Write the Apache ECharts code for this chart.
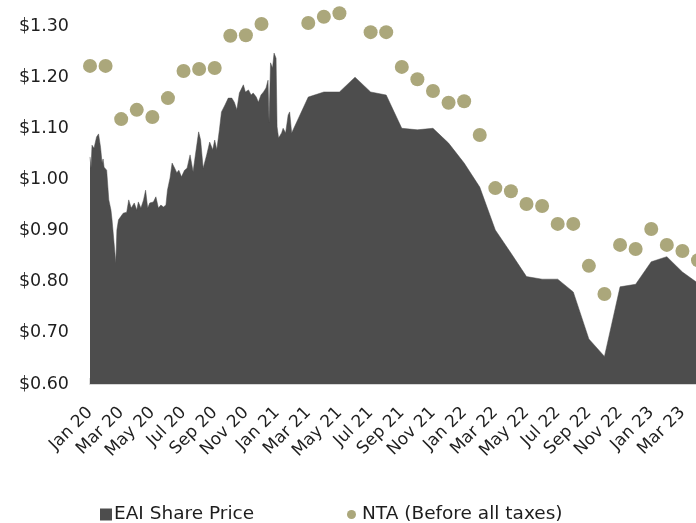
<!DOCTYPE html>
<html>
<head>
<meta charset="utf-8">
<script src="https://cdn.jsdelivr.net/npm/echarts@6/dist/echarts.min.js"></script>
<style>html,body{margin:0;padding:0;background:#fff}#c{width:696px;height:523px}</style>
</head>
<body>
<div id="c"></div>
<script>
// Tick labels (every second month, starting Jan 2020)
const tickLabels = ['Jan 20','Mar 20','May 20','Jul 20','Sep 20','Nov 20','Jan 21','Mar 21','May 21','Jul 21',
  'Sep 21','Nov 21','Jan 22','Mar 22','May 22','Jul 22','Sep 22','Nov 22','Jan 23','Mar 23'];

// EAI share price: dates and closing values
const priceDates = [
  '2020-01-01','2020-01-03','2020-01-05','2020-01-09','2020-01-14','2020-01-18','2020-01-22','2020-01-25','2020-01-27','2020-01-29',
  '2020-02-03','2020-02-07','2020-02-11','2020-02-13','2020-02-16','2020-02-20','2020-02-22','2020-02-25','2020-02-29',
  '2020-03-05','2020-03-12','2020-03-16','2020-03-21','2020-03-27',
  '2020-04-01','2020-04-04','2020-04-09','2020-04-14','2020-04-18','2020-04-22','2020-04-26',
  '2020-05-03','2020-05-08','2020-05-13','2020-05-18','2020-05-23','2020-05-28','2020-05-31',
  '2020-06-05','2020-06-09','2020-06-14','2020-06-18','2020-06-22','2020-06-27',
  '2020-07-03','2020-07-08','2020-07-14','2020-07-20','2020-07-26','2020-07-31',
  '2020-08-04','2020-08-09','2020-08-16','2020-08-22','2020-08-28',
  '2020-09-01','2020-09-05','2020-09-10','2020-09-14','2020-09-21','2020-09-27',
  '2020-10-04','2020-10-09','2020-10-14','2020-10-19','2020-10-27','2020-10-31',
  '2020-11-06','2020-11-11','2020-11-15','2020-11-21','2020-11-25','2020-11-30',
  '2020-12-05','2020-12-10','2020-12-14','2020-12-16','2020-12-19','2020-12-23','2020-12-26','2020-12-30',
  '2021-01-01','2021-01-04','2021-01-10','2021-01-13','2021-01-18','2021-01-23','2021-01-26','2021-01-30',
  '2021-03-01','2021-04-01','2021-05-01','2021-06-01','2021-07-01','2021-08-01','2021-09-01','2021-10-01','2021-11-01','2021-12-01',
  '2022-01-01','2022-02-01','2022-03-01','2022-04-01','2022-05-01','2022-06-01','2022-07-01','2022-08-01','2022-09-01','2022-10-01',
  '2022-11-01','2022-12-01','2023-01-01','2023-02-01','2023-03-01','2023-04-01'
];
const priceValues = [
  1.044,1.022,1.067,1.061,1.083,1.089,1.063,1.032,1.040,1.024,
  1.018,0.960,0.940,0.921,0.921,0.837,0.901,0.921,0.927,
  0.934,0.936,0.960,0.944,0.954,
  0.940,0.956,0.944,0.960,0.979,0.944,0.954,
  0.956,0.966,0.944,0.950,0.946,0.950,0.979,
  1.003,1.032,1.022,1.013,1.018,1.005,
  1.018,1.022,1.048,1.015,1.058,1.093,
  1.077,1.022,1.048,1.073,1.058,
  1.077,1.058,1.097,1.132,1.146,1.159,
  1.159,1.151,1.136,1.169,1.185,1.171,
  1.175,1.165,1.169,1.161,1.151,1.165,
  1.171,1.179,1.194,1.112,1.228,1.218,1.247,1.237,
  1.103,1.081,1.091,1.100,1.091,1.126,1.132,1.091,
  1.161,1.171,1.171,1.200,1.171,1.165,1.100,1.097,1.100,1.071,
  1.032,0.985,0.901,0.856,0.810,0.805,0.805,0.780,0.688,0.654,
  0.790,0.795,0.839,0.849,0.819,0.797
];

// NTA (before all taxes), monthly from Jan 2020 (null = not shown)
const ntaValues = [
  1.222,1.222,1.118,1.136,1.122,1.159,1.212,1.216,1.218,1.281,1.282,1.304,
  null,null,1.306,1.318,1.325,null,1.288,1.288,1.220,1.196,1.173,1.150,
  1.153,1.087,0.983,0.977,0.952,0.948,0.913,0.913,0.831,0.776,0.872,0.864,
  0.903,0.872,0.860,0.842
];

function monthPos(s) {
  const p = s.split('-').map(Number);
  const dim = new Date(p[0], p[1], 0).getDate();
  return (p[0] - 2020) * 12 + (p[1] - 1) + (p[2] - 1) / dim;
}

const priceData = priceDates.map((d, i) => [monthPos(d), priceValues[i]]);
const ntaData = [];
ntaValues.forEach((v, i) => { if (v !== null) ntaData.push([i, v]); });

const FONT = 'DejaVu Sans';
const TXT = '#1e1e1e';
const chart = echarts.init(document.getElementById('c'));
chart.setOption({
  animation: false,
  textStyle: { fontFamily: FONT },
  grid: { left: 90, right: -2, top: 26, bottom: 139, containLabel: false, outerBoundsMode: 'none' },
  legend: [
    { data: [{ name: 'EAI Share Price', icon: 'rect' }], left: 100, top: 505, padding: 0, itemWidth: 12, itemHeight: 12,
      textStyle: { fontFamily: FONT, fontSize: 18.5, color: TXT, padding: [0,0,0,-3] } },
    { data: [{ name: 'NTA (Before all taxes)', icon: 'circle' }], left: 347, top: 505, padding: 0, itemWidth: 9, itemHeight: 9,
      textStyle: { fontFamily: FONT, fontSize: 18.5, color: TXT, padding: [0,0,0,1] } }
  ],
  xAxis: {
    type: 'value', min: 0, max: 39, interval: 2,
    axisLine: { show: true, lineStyle: { color: '#d6d6d6', width: 2 } },
    axisTick: { show: true, inside: true, length: 6, lineStyle: { color: '#d6d6d6', width: 1.5 } },
    splitLine: { show: false },
    axisLabel: {
      rotate: 45, margin: 26, fontFamily: FONT, fontSize: 17, color: TXT,
      showMaxLabel: false,
      formatter: v => (Number.isInteger(v / 2) && tickLabels[v / 2]) ? tickLabels[v / 2] : ''
    }
  },
  yAxis: {
    type: 'value', min: 0.6, max: 1.3, interval: 0.1,
    axisLine: { show: false }, axisTick: { show: false }, splitLine: { show: false },
    axisLabel: { margin: 21, fontFamily: FONT, fontSize: 17.5, color: TXT, padding: [4,0,0,0], formatter: v => '$' + v.toFixed(2) }
  },
  series: [
    { name: 'EAI Share Price', type: 'line', data: priceData, showSymbol: false, symbol: 'none',
      color: '#4d4d4d', lineStyle: { width: 0.5, color: '#4d4d4d' }, areaStyle: { color: '#4d4d4d', opacity: 1 }, z: 1 },
    { name: 'NTA (Before all taxes)', type: 'scatter', data: ntaData, symbolSize: 14, clip: false,
      itemStyle: { color: '#aba77b', opacity: 1 }, z: 2 }
  ]
});
</script>
</body>
</html>
